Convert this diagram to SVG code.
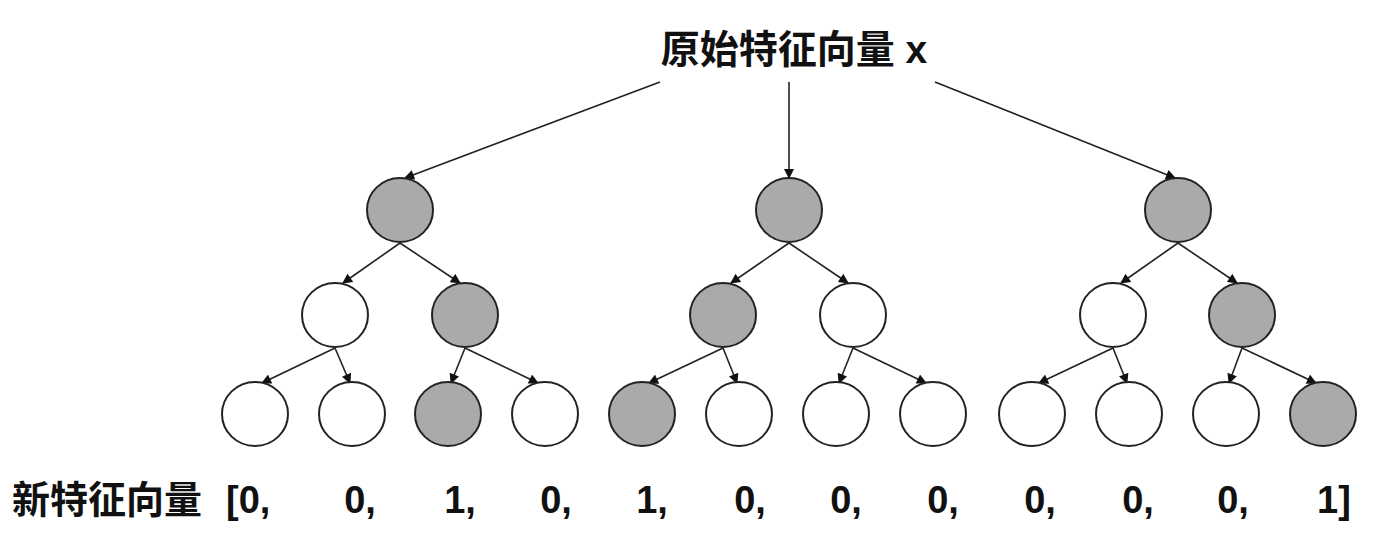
<svg xmlns="http://www.w3.org/2000/svg" width="1390" height="544" viewBox="0 0 1390 544">
<style>
.n{stroke:#222;stroke-width:2}
.g{fill:#aaaaaa}.w{fill:#fff}
.e{stroke:#222;stroke-width:1.6;fill:none;marker-end:url(#a)}
text{font-family:"Liberation Sans","Noto Sans CJK SC",sans-serif;font-weight:bold;fill:#111}
</style>
<defs><marker id="a" viewBox="0 0 10 10" refX="9" refY="5" markerWidth="11" markerHeight="10" markerUnits="userSpaceOnUse" orient="auto"><path d="M0,0L10,5L0,10z" fill="#111"/></marker></defs>
<rect width="1390" height="544" fill="#fff"/>
<g id="connectors">
<path class="e" d="M660,82L405,178"/><path class="e" d="M789,82L789,178"/><path class="e" d="M935,82L1175,178"/>
<path class="e" d="M400,243L343,283"/><path class="e" d="M400,243L460,283"/>
<path class="e" d="M335,348L262,383"/><path class="e" d="M335,348L350,383"/>
<path class="e" d="M465,348L451,383"/><path class="e" d="M465,348L538,383"/>
<path class="e" d="M789,243L731,283"/><path class="e" d="M789,243L848,283"/>
<path class="e" d="M723,348L649,383"/><path class="e" d="M723,348L737,383"/>
<path class="e" d="M853,348L839,383"/><path class="e" d="M853,348L926,383"/>
<path class="e" d="M1178,243L1121,283"/><path class="e" d="M1178,243L1237,283"/>
<path class="e" d="M1113,348L1039,383"/><path class="e" d="M1113,348L1127,383"/>
<path class="e" d="M1242,348L1229,383"/><path class="e" d="M1242,348L1316,383"/>
</g>
<g id="t1"><ellipse class="n g" cx="400" cy="210" rx="33" ry="32"/><ellipse class="n w" cx="335" cy="315" rx="33" ry="32"/><ellipse class="n g" cx="465" cy="315" rx="33" ry="32"/>
<ellipse class="n w" cx="255" cy="414" rx="33" ry="32"/><ellipse class="n w" cx="352" cy="414" rx="33" ry="32"/><ellipse class="n g" cx="448" cy="414" rx="33" ry="32"/><ellipse class="n w" cx="545" cy="414" rx="33" ry="32"/></g>
<g id="t2"><ellipse class="n g" cx="789" cy="210" rx="33" ry="32"/><ellipse class="n g" cx="723" cy="315" rx="33" ry="32"/><ellipse class="n w" cx="853" cy="315" rx="33" ry="32"/>
<ellipse class="n g" cx="642" cy="414" rx="33" ry="32"/><ellipse class="n w" cx="739" cy="414" rx="33" ry="32"/><ellipse class="n w" cx="836" cy="414" rx="33" ry="32"/><ellipse class="n w" cx="933" cy="414" rx="33" ry="32"/></g>
<g id="t3"><ellipse class="n g" cx="1178" cy="210" rx="33" ry="32"/><ellipse class="n w" cx="1113" cy="315" rx="33" ry="32"/><ellipse class="n g" cx="1242" cy="315" rx="33" ry="32"/>
<ellipse class="n w" cx="1032" cy="414" rx="33" ry="32"/><ellipse class="n w" cx="1129" cy="414" rx="33" ry="32"/><ellipse class="n w" cx="1226" cy="414" rx="33" ry="32"/><ellipse class="n g" cx="1323" cy="414" rx="33" ry="32"/></g>
<g id="labels" font-size="38">
<text x="794" y="63" text-anchor="middle" font-size="39">原始特征向量 x</text>
<text x="12" y="513">新特征向量</text>
<text x="226" y="513">[0,</text>
<g text-anchor="middle"><text x="360" y="513">0,</text><text x="460" y="513">1,</text><text x="556" y="513">0,</text><text x="652" y="513">1,</text><text x="750" y="513">0,</text><text x="846" y="513">0,</text><text x="943" y="513">0,</text><text x="1040" y="513">0,</text><text x="1138" y="513">0,</text><text x="1233" y="513">0,</text><text x="1334" y="513">1]</text></g>
</g>
</svg>
